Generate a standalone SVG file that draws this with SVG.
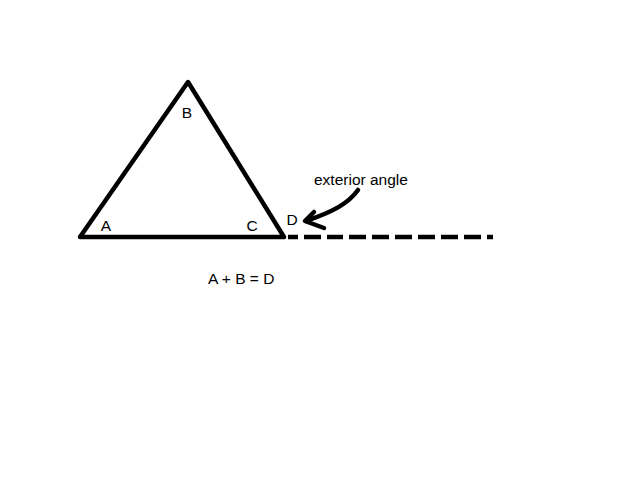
<svg xmlns="http://www.w3.org/2000/svg" width="640" height="480" viewBox="0 0 640 480">
<style>
.lbl{font-family:"Liberation Sans",Arial,sans-serif;font-size:15.5px;fill:#000}
.edge{stroke:#000;stroke-width:4.5;fill:none;stroke-linejoin:round}
</style>
<rect width="640" height="480" fill="#fff"/>
<g id="triangle">
<path class="edge" d="M80,237 L188,82 L284,237 Z" stroke-linecap="round"/>
</g>
<g id="connectors">
<line class="edge" x1="288" y1="237" x2="493" y2="237" stroke-dasharray="10 6 17 6 16 6 17 6 17 6 17 6 17 6 17 6 17 6"/>
<path class="edge" d="M358,190 C348,204 332,212 306,221" stroke-linecap="round"/>
<path class="edge" d="M314,212 L305,221 L324,228" stroke-linecap="round"/>
</g>
<g id="labels">
<text class="lbl" x="187" y="118" text-anchor="middle">B</text>
<text class="lbl" x="106" y="231" text-anchor="middle">A</text>
<text class="lbl" x="252" y="231" text-anchor="middle">C</text>
<text class="lbl" x="292" y="225" text-anchor="middle">D</text>
<text class="lbl" x="314" y="185">exterior angle</text>
<text class="lbl" x="208" y="284">A + B = D</text>
</g>
</svg>
